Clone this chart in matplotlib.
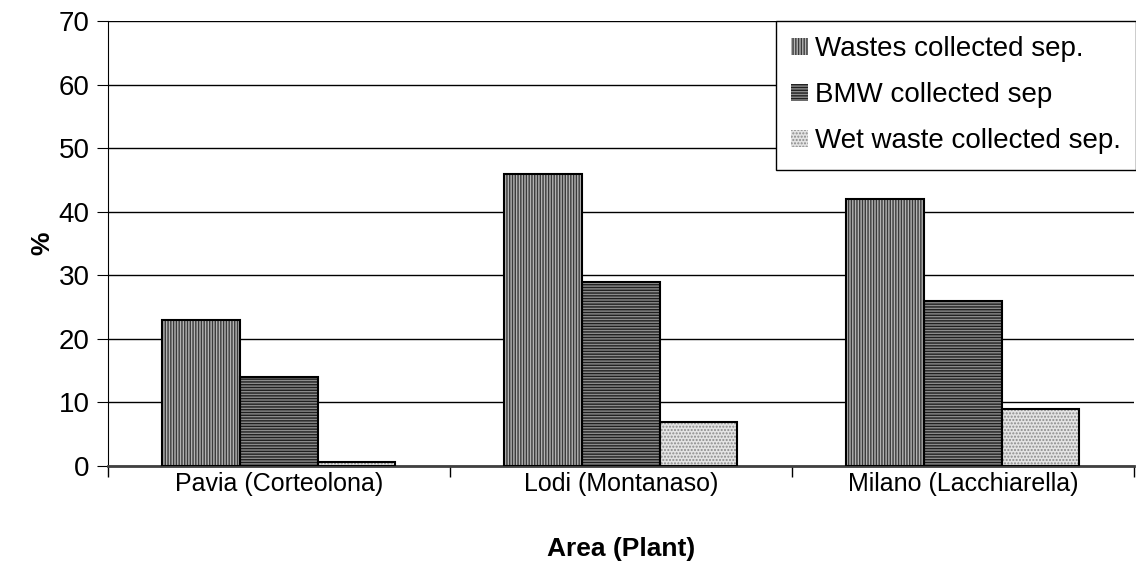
import numpy as np
import matplotlib
matplotlib.use("Agg")
import matplotlib.pyplot as plt

plt.rcParams['font.family'] = ['Liberation Sans', 'DejaVu Sans']
plt.rcParams['hatch.linewidth'] = 1.0

areas = ['Pavia (Corteolona)', 'Lodi (Montanaso)', 'Milano (Lacchiarella)']
series = ['Wastes collected sep.', 'BMW collected sep', 'Wet waste collected sep.']
wastes = [23, 46, 42]
bmw = [14, 29, 26]
wet = [0.7, 7, 9]

faces = ['#b4b4b4', '#8c8c8c', '#e4e4e4']
hatches = ['||||||', '------', '.....']
hcols = ['#3a3a3a', '#202020', '#8a8a8a']

fig = plt.figure(figsize=(11.36, 5.67), dpi=100)
ax = fig.add_axes([0.095, 0.178, 0.903, 0.785])

x = np.arange(len(areas))
w = 0.227
for k, vals in enumerate([wastes, bmw, wet]):
    ax.bar(x + (k - 1) * w, vals, w, facecolor=faces[k], edgecolor=hcols[k],
           hatch=hatches[k], linewidth=0, label=series[k], zorder=2)
    # dark outline over the hatched fill
    ax.bar(x + (k - 1) * w, vals, w, facecolor='none', edgecolor='black',
           linewidth=1.5, zorder=3)

ax.set_xlim(-0.5, 2.5)
ax.set_ylim(0, 70)
ax.set_yticks(range(0, 71, 10))
ax.set_xticks(x)
ax.set_xticklabels(areas, fontsize=18)
ax.set_xticks([-0.5, 0.5, 1.5, 2.5], minor=True)
ax.tick_params(axis='x', which='major', length=0, pad=4)
ax.tick_params(axis='x', which='minor', length=8, width=1, direction='out')
ax.tick_params(axis='y', labelsize=20, length=8, direction='out', pad=5)
ax.yaxis.grid(True, color='black', linewidth=1, zorder=0)
ax.set_axisbelow(True)
for s in ['top', 'right']:
    ax.spines[s].set_visible(False)
ax.spines['bottom'].set_color('#404040')
ax.spines['bottom'].set_linewidth(2)

ax.set_ylabel('%', fontsize=19, fontweight='bold')
ax.yaxis.set_label_coords(-0.052, 0.5)
ax.set_xlabel('Area (Plant)', fontsize=19, fontweight='bold')
ax.xaxis.set_label_coords(0.5, -0.16)

leg = ax.legend(loc='upper right', bbox_to_anchor=(1.002, 1.0), fontsize=20,
                fancybox=False, framealpha=1, edgecolor='black',
                handlelength=0.6, handleheight=0.6, handletextpad=0.25,
                labelspacing=0.72, borderpad=0.55, borderaxespad=0)
leg.get_frame().set_linewidth(1)
leg.set_zorder(5)

fig.savefig('out.png', dpi=100)
